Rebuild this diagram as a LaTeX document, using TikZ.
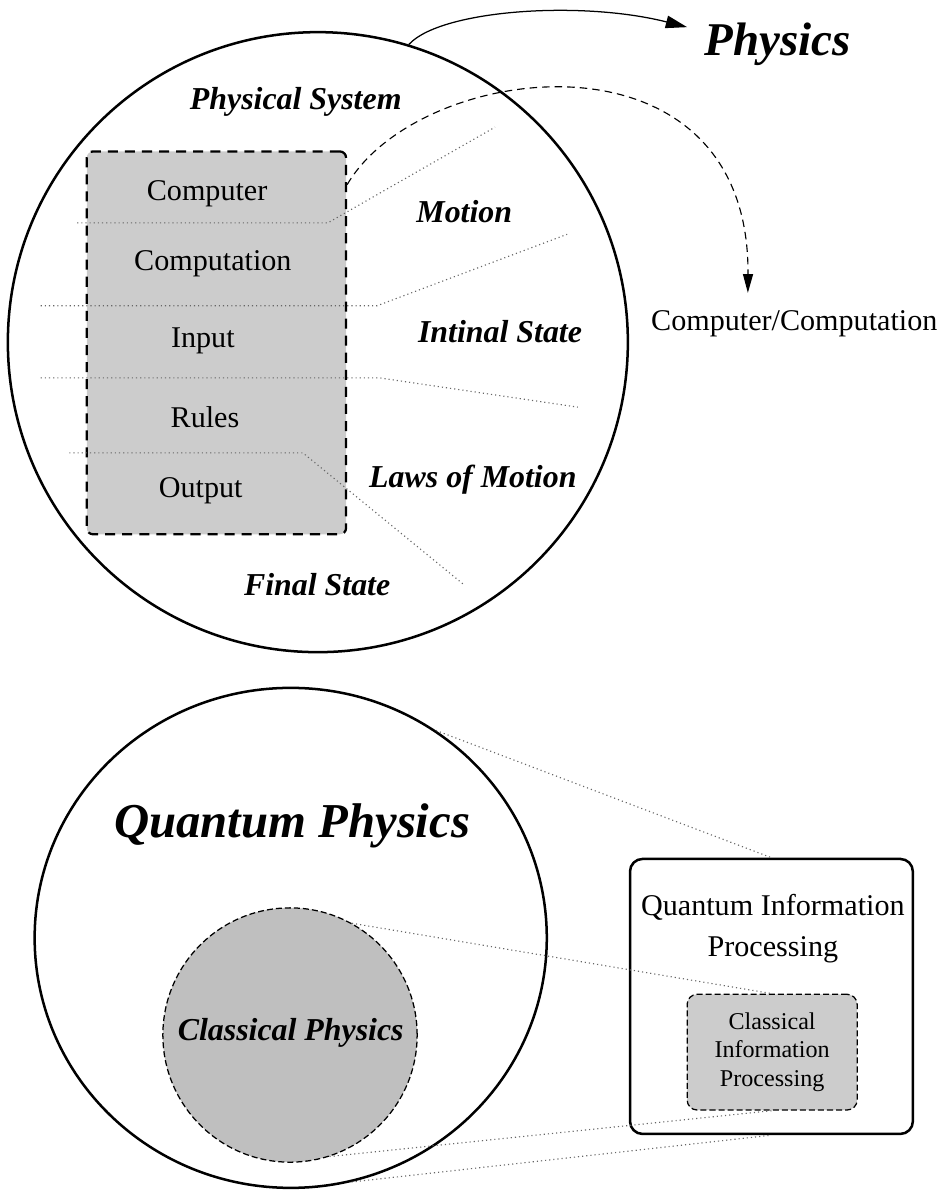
\documentclass[tikz,border=0pt]{standalone}
\usepackage{fontspec}
\setmainfont{Liberation Serif}
\usetikzlibrary{arrows.meta,positioning,shapes.geometric}

\begin{document}
\begin{tikzpicture}[
    every node/.style={font=\fontsize{12}{14}\selectfont, inner sep=0pt},
    big/.style={circle, draw, line width=1pt},
    blob/.style={ellipse, draw, line width=1pt},
    cblob/.style={circle, draw, fill=gray!50, line width=0.5pt,
                  dash pattern=on 2.4pt off 1.2pt},
    area/.style={rectangle, draw, fill=gray!40, rounded corners=2.5pt,
                 line width=0.9pt, dash pattern=on 4pt off 2.8pt},
    qbox/.style={rectangle, draw, rounded corners=5pt, line width=1pt},
    sbox/.style={rectangle, draw, fill=gray!40, rounded corners=4pt,
                 line width=0.5pt, dash pattern=on 2.4pt off 1.2pt},
    itm/.style={anchor=base},
    lbl/.style={anchor=base, font=\fontsize{12.7}{15}\selectfont\bfseries\itshape},
    sep/.style={draw=black!60, line width=0.45pt, dash pattern=on 0.45pt off 1.2pt},
    e/.style={-{Triangle[length=8.5pt, width=5pt]}, line width=0.5pt},
    de/.style={-{Triangle[length=7.5pt, width=4pt]}, line width=0.45pt,
               dash pattern=on 3pt off 2pt},
  ]
  \useasboundingbox (0,0) rectangle (13.16,-16.674);

  % physical system
  \node[big, minimum size=8.68cm] (sys) at (4.45,-4.79) {};
  \node[area, minimum width=3.63cm, minimum height=5.36cm] (cbox) at (3.03,-4.80) {};
  \draw[sep] (1.08,-3.12) -- (4.59,-3.12) -- (6.93,-1.78);
  \draw[sep] (0.57,-4.28) -- (5.28,-4.28) -- (7.94,-3.28);
  \draw[sep] (0.57,-5.29) -- (5.31,-5.29) -- (8.09,-5.70);
  \draw[sep] (0.97,-6.34) -- (4.24,-6.34) -- (6.50,-8.19);
  \node[itm] (comp) at (2.90,-2.80) {Computer};
  \node[itm] (cptn) at (2.98,-3.79) {Computation};
  \node[itm] (inp) at (2.84,-4.86) {Input};
  \node[itm] (rul) at (2.87,-5.98) {Rules};
  \node[itm] (outp) at (2.81,-6.97) {Output};
  \node[lbl] (psys) at (4.14,-1.53) {Physical System};
  \node[lbl] (mot) at (6.50,-3.11) {Motion};
  \node[lbl] (ist) at (7.00,-4.80) {Intinal State};
  \node[lbl] (law) at (6.62,-6.82) {Laws of Motion};
  \node[lbl] (fst) at (4.44,-8.33) {Final State};

  \node[lbl, font=\fontsize{18.7}{22}\selectfont\bfseries\itshape] (phys) at (10.89,-0.77) {Physics};
  \node[itm] (cc) at (11.12,-4.62) {Computer/Computation};
  \coordinate (physin) at (9.62,-0.38);
  \coordinate (ccin) at (10.47,-4.10);
  \draw[e] (sys.73) .. controls (6.16,-0.14) and (8.12,0.00) .. (physin);
  \draw[de] ([yshift=-0.48cm]cbox.north east) .. controls (5.88,-0.84) and (10.50,-0.28) .. (ccin);

  % quantum vs classical
  \node[blob, minimum width=7.17cm, minimum height=7.0cm] (qp) at (4.07,-13.13) {};
  \node[lbl, font=\fontsize{19.4}{23}\selectfont\bfseries\itshape] (qpt) at (4.09,-11.72) {Quantum Physics};
  \node[cblob, minimum size=3.56cm] (cp) at (4.06,-14.49) {};
  \node[lbl] (cpt) at (4.07,-14.57) {Classical Physics};
  \node[qbox, minimum width=3.96cm, minimum height=3.85cm] (qip) at (10.80,-13.95) {};
  \node[align=center, font=\fontsize{12}{16.4}\selectfont] (qipt) at (10.82,-13.00) {Quantum Information\\Processing};
  \node[sbox, minimum width=2.38cm, minimum height=1.62cm, align=center,
        font=\fontsize{9.6}{11.4}\selectfont] (cip) at (10.81,-14.73) {Classical\\Information\\Processing};
  \draw[sep] (qp.55) -- (qip.north);
  \draw[sep] (cp.61) -- (cip.north);
  \draw[sep] (cp.-72) -- (cip.south);
  \draw[sep] (qp.-76) -- (qip.south);
\end{tikzpicture}
\end{document}
